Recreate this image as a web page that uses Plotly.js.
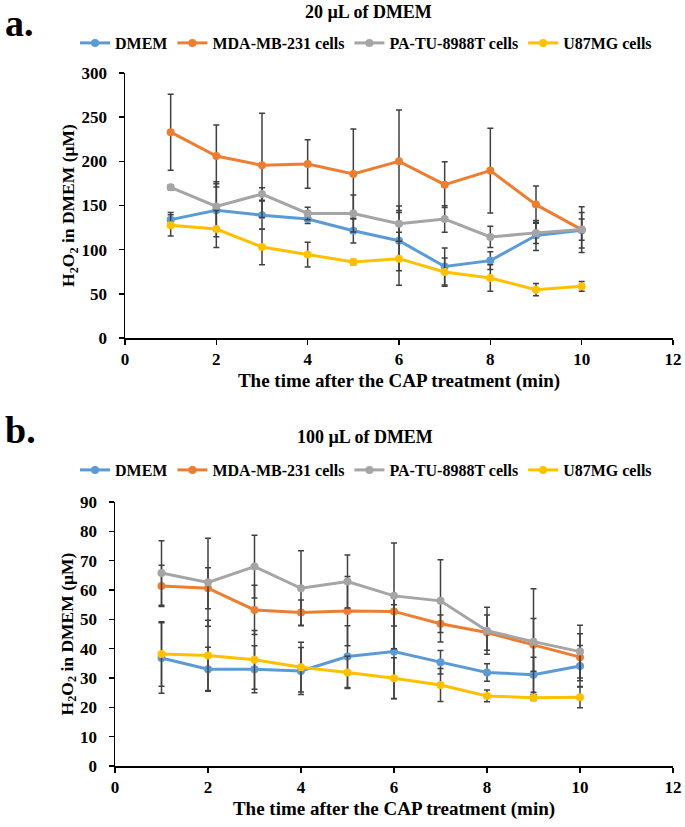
<!DOCTYPE html>
<html>
<head>
<meta charset="utf-8">
<script src="https://cdn.plot.ly/plotly-3.0.1.min.js"></script>
<style>
  body { margin: 0; background: #fff; }
  #plot { width: 685px; height: 827px; }
</style>
</head>
<body>
<div id="plot"></div>
<script>
// time points (min)
let time = [1, 2, 3, 4, 5, 6, 7, 8, 9, 10];
let seriesNames = ["DMEM", "MDA-MB-231 cells", "PA-TU-8988T cells", "U87MG cells"];
let seriesColors = ["#5B9BD5", "#ED7D31", "#A5A5A5", "#FFC000"];

// panel a: 20 uL of DMEM
let topDmem = [134, 144.5, 139, 134.7, 121.5, 110.2, 81, 87.6, 116, 122];
let topDmemErr = [8, 30, 16, 5, 14, 34, 21, 10, 17, 20];
let topMda = [233, 206, 195.5, 197, 185.7, 200, 173.6, 189.5, 151, 122.7];
let topMdaErr = [43, 35, 59, 27.5, 51, 58, 26, 48, 21, 12];
let topPa = [170.6, 149, 163, 141, 141, 129.4, 134.7, 114.4, 119, 122.7];
let topPaErr = [3, 28, 7, 7, 21, 20, 15, 12, 12, 26];
let topU87 = [127.6, 123.4, 103, 94.4, 86, 89.8, 74.7, 68, 54.7, 58.5];
let topU87Err = [12, 21, 20, 14, 3, 30, 16, 15, 7, 5.5];

// panel b: 100 uL of DMEM
let botDmem = [36.8, 33, 33, 32.4, 37.3, 39, 35.4, 31.9, 31.1, 34.1];
let botDmemErr = [12, 7.5, 8, 8, 10.5, 16, 4, 3, 6, 7];
let botMda = [61.4, 60.6, 53.2, 52.3, 52.8, 52.7, 48.5, 45.5, 41.3, 37.1];
let botMdaErr = [7, 7, 8.4, 4.3, 11.8, 5, 3, 6, 9, 8];
let botPa = [65.8, 62.6, 68, 60.6, 62.9, 58, 56.3, 46.1, 42.4, 39];
let botPaErr = [11, 15, 10.7, 12.8, 9, 18, 14, 8, 18, 9];
let botU87 = [38.2, 37.7, 36.2, 33.7, 31.9, 29.9, 27.6, 23.9, 23.3, 23.4];
let botU87Err = [11, 12, 10, 8.5, 5.5, 7, 5.6, 2, 1, 3.5];

let topVals = [topDmem, topMda, topPa, topU87];
let topErrs = [topDmemErr, topMdaErr, topPaErr, topU87Err];
let botVals = [botDmem, botMda, botPa, botU87];
let botErrs = [botDmemErr, botMdaErr, botPaErr, botU87Err];

function makeTrace(i, vals, errs, xa, ya, leg) {
    return {
        x: time,
        y: vals[i],
        xaxis: xa,
        yaxis: ya,
        legend: leg,
        name: seriesNames[i],
        type: "scatter",
        mode: "lines+markers",
        line: {color: seriesColors[i], width: 3},
        marker: {color: seriesColors[i], size: 8, symbol: "circle"},
        error_y: {type: "data", array: errs[i], visible: true, color: "#404040", thickness: 1.5, width: 3}
    };
}

let data = [];
for (let i = 0; i < 4; i++) data.push(makeTrace(i, topVals, topErrs, "x", "y", "legend"));
for (let i = 0; i < 4; i++) data.push(makeTrace(i, botVals, botErrs, "x2", "y2", "legend2"));

function serif(size) {
    return {family: "Liberation Serif", size: size, color: "#000", weight: "bold"};
}
let xTitle = "The time after the CAP treatment (min)";
let yTitle = "H<sub>2</sub>O<sub>2</sub> in DMEM (µM)";

function xAxis(dom, anchor) {
    return {
        domain: dom, anchor: anchor, range: [0, 12], dtick: 2,
        showgrid: false, zeroline: false, showline: true, linecolor: "#000", linewidth: 1.5,
        ticks: "outside", ticklen: 5, tickcolor: "#000", tickwidth: 1.5,
        tickfont: serif(17),
        automargin: false,
        title: {text: xTitle, font: serif(19), standoff: 6}
    };
}
function yAxis(dom, anchor, rng, dt) {
    return {
        domain: dom, anchor: anchor, range: rng, dtick: dt,
        showgrid: false, zeroline: false, showline: true, linecolor: "#000", linewidth: 1.5,
        ticks: "outside", ticklen: 5, tickcolor: "#000", tickwidth: 1.5,
        tickfont: serif(17), ticklabelstandoff: 8,
        automargin: false,
        title: {text: yTitle, font: serif(17.5), standoff: 2}
    };
}

let legendBase = {
    orientation: "h", xanchor: "left", yanchor: "middle",
    font: serif(16),
    bgcolor: "rgba(0,0,0,0)", tracegroupgap: 0, itemwidth: 30
};

let layout = {
    width: 685, height: 827,
    margin: {l: 0, r: 0, t: 0, b: 0},
    paper_bgcolor: "#fff", plot_bgcolor: "#fff",
    font: serif(15),
    showlegend: true,
    xaxis: xAxis([125 / 685, 673 / 685], "y"),
    yaxis: yAxis([1 - 338 / 827, 1 - 73 / 827], "x", [0, 300], 50),
    xaxis2: xAxis([115 / 685, 673 / 685], "y2"),
    yaxis2: yAxis([1 - 766 / 827, 1 - 502 / 827], "x2", [0, 90], 10),
    legend: Object.assign({x: 75 / 685, y: 1 - 43 / 827}, legendBase),
    legend2: Object.assign({x: 75 / 685, y: 1 - 470 / 827}, legendBase),
    annotations: [
        {text: "a.", x: 3 / 685, y: 1 - 23 / 827, xref: "paper", yref: "paper", xanchor: "left", yanchor: "middle", showarrow: false, font: serif(38)},
        {text: "20 µL of DMEM", x: 368 / 685, y: 1 - 12 / 827, xref: "paper", yref: "paper", xanchor: "center", yanchor: "middle", showarrow: false, font: serif(18)},
        {text: "b.", x: 3 / 685, y: 1 - 430 / 827, xref: "paper", yref: "paper", xanchor: "left", yanchor: "middle", showarrow: false, font: serif(38)},
        {text: "100 µL of DMEM", x: 365 / 685, y: 1 - 437 / 827, xref: "paper", yref: "paper", xanchor: "center", yanchor: "middle", showarrow: false, font: serif(18)}
    ]
};

Plotly.newPlot("plot", data, layout, {displayModeBar: false, staticPlot: true});
</script>
</body>
</html>
